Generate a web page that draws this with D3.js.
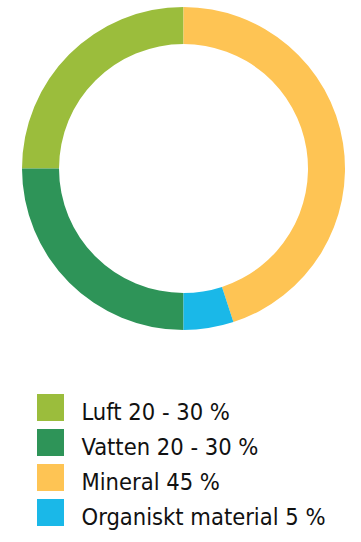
<!DOCTYPE html>
<html><head><meta charset="utf-8">
<script src="https://cdn.jsdelivr.net/npm/d3@7"></script>
<style>html,body{margin:0;padding:0;background:#fff;}svg{display:block;}</style>
</head><body>
<svg id="c" width="361" height="542"></svg>
<script>
const categories = ["Luft", "Vatten", "Mineral", "Organiskt material"];
const values = [25, 25, 45, 5];
const labels = ["Luft 20 - 30 %", "Vatten 20 - 30 %", "Mineral 45 %", "Organiskt material 5 %"];
const colors = ["#9bbd3c", "#2e9458", "#fec454", "#1ab8e8"];
const drawOrder = ["Mineral", "Organiskt material", "Vatten", "Luft"];

const data = categories.map((c, i) => ({ name: c, value: values[i], label: labels[i], color: colors[i] }));
const svg = d3.select("#c");
const cx = 183.5, cy = 168.5, rOuter = 161.5, rInner = 124.5;

const pie = d3.pie().value(d => d.value)
  .sort((a, b) => drawOrder.indexOf(a.name) - drawOrder.indexOf(b.name));
const arc = d3.arc().innerRadius(rInner).outerRadius(rOuter);

svg.append("g").attr("transform", `translate(${cx},${cy})`)
  .selectAll("path").data(pie(data)).join("path")
  .attr("d", arc).attr("fill", d => d.data.color);

const y = d3.scaleBand().domain(categories).range([394, 394 + 35 * 4]).paddingInner(0);
const leg = svg.append("g").selectAll("g").data(data).join("g")
  .attr("transform", d => `translate(37,${y(d.name)})`);
leg.append("rect").attr("width", 27).attr("height", 27).attr("fill", d => d.color);
leg.append("text").attr("x", 44.5).attr("y", 25.5)
  .attr("font-family", "'DejaVu Sans Condensed','DejaVu Sans',sans-serif")
  .attr("font-stretch", "condensed")
  .attr("font-size", 23.5).attr("fill", "#111")
  .text(d => d.label);
</script>
</body></html>
